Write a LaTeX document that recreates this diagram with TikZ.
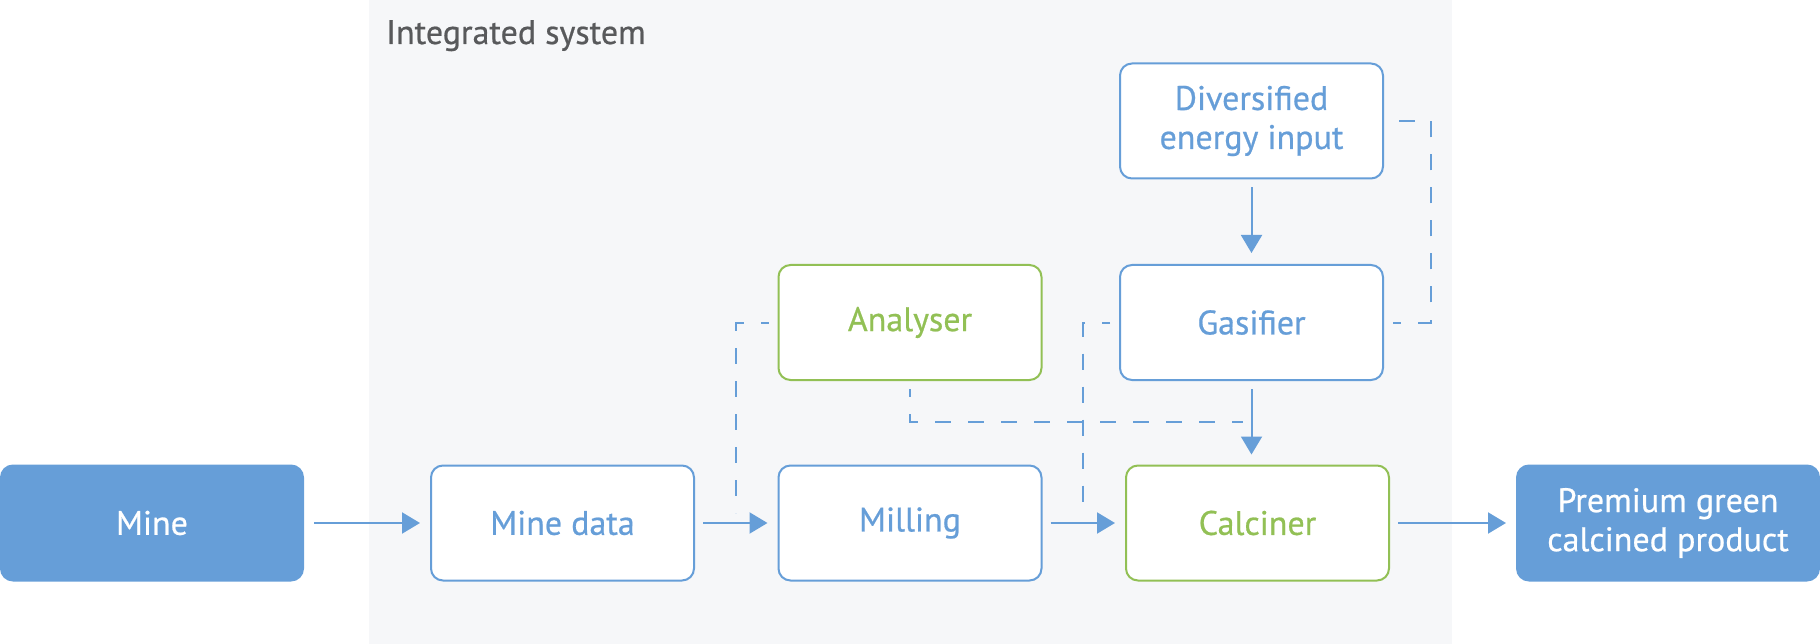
\documentclass[tikz,border=0pt]{standalone}
\usepackage{fontspec}
\setmainfont{PT Sans}[BoldFont={PT Sans}, BoldFeatures={FakeBold=0.6}]
\usetikzlibrary{arrows.meta,calc}
\definecolor{cblue}{RGB}{102,158,216}
\definecolor{cgreen}{RGB}{146,192,85}
\definecolor{cbg}{RGB}{246,247,249}
\definecolor{cgray}{RGB}{88,89,91}
\tikzset{
  box/.style={draw=cblue, fill=white, line width=2pt, rounded corners=12pt,
    minimum width=263pt, minimum height=115pt, inner sep=0pt, text=cblue,
    align=center, font=\fontsize{34}{39}\selectfont\bfseries},
  gbox/.style={box, draw=cgreen, text=cgreen},
  fbox/.style={box, fill=cblue, text=white, minimum width=302pt},
  flow/.style={draw=cblue, line width=2pt, -{Triangle[length=18pt,width=21pt]}},
  dline/.style={draw=cblue, line width=2pt, dash pattern=on 16pt off 17pt, dash phase=8pt}
}
\begin{document}
\begin{tikzpicture}[x=1pt,y=-1pt]
\useasboundingbox (0,0) rectangle (1820,644);
\fill[cbg] (369,0) rectangle (1452,644);
\node[anchor=base west, text=cgray, font=\fontsize{34}{40}\selectfont\bfseries, inner sep=0pt] (title) at (386,44) {Integrated system};

\node[fbox] (mine) at (152,523) {Mine};
\node[box] (minedata) at (562.5,523) {Mine data};
\node[box] (milling) at (910,523) {Milling};
\node[gbox] (calciner) at (1257.5,523) {Calciner};
\node[fbox] (premium) at (1668,523) {Premium green\\calcined product};
\node[gbox] (analyser) at (910,322.5) {Analyser};
\node[box] (gasifier) at (1251.5,322.5) {Gasifier};
\node[box] (energy) at (1251.5,121) {Diversified\\energy input};

% solid flow arrows
\draw[flow, shorten <=10pt, shorten >=10pt] (mine) -- (minedata);
\draw[flow, shorten <=8pt, shorten >=10pt] (minedata) -- (milling);
\draw[flow, shorten <=8pt, shorten >=10pt] (milling) -- (calciner);
\draw[flow, shorten <=8pt, shorten >=10pt] (calciner) -- (premium);
\draw[flow, shorten <=8pt, shorten >=11pt] (energy.south) -- (gasifier.north);
\draw[flow, shorten <=8pt, shorten >=10pt] (gasifier.south) -- (gasifier.south |- calciner.north);

% dashed links
\coordinate (j1) at (736,513);
\coordinate (j2) at (1083,513);
\coordinate (j3) at (1243,422);
\draw[dline] ($(analyser.west)+(-9,0)$) -| (j1);
\draw[dline] ($(gasifier.west)+(-9,0)$) -| (j2);
\draw[dline] ($(analyser.south)+(0,8)$) |- (j3);
\draw[dline] ($(gasifier.east)+(9,0)$) -- (1431,322.5) -- (1431,121) -- ($(energy.east)+(9,0)$);
\end{tikzpicture}
\end{document}
